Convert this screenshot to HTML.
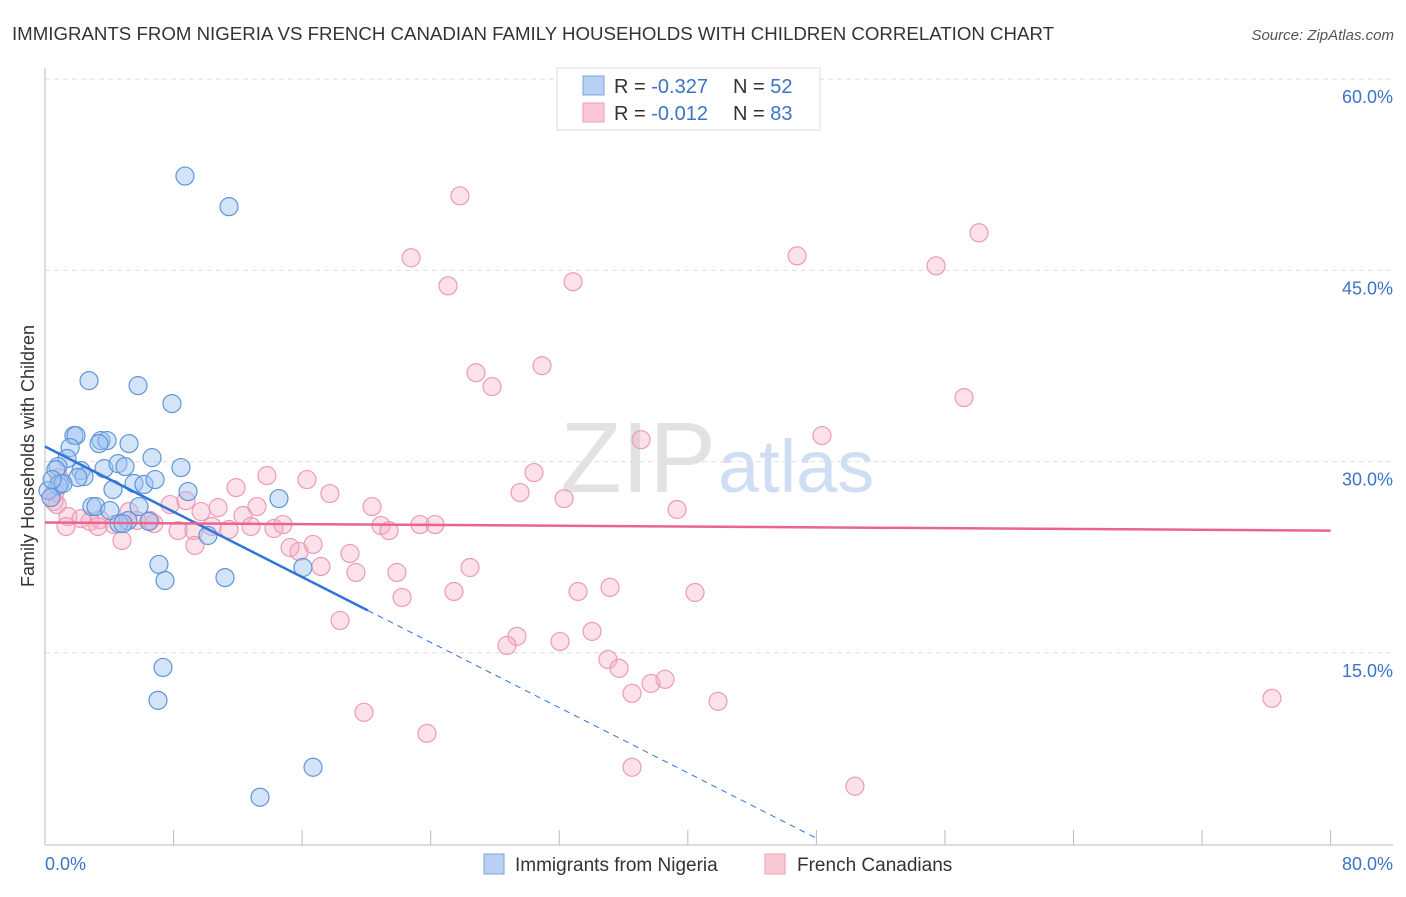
<!DOCTYPE html>
<html><head><meta charset="utf-8"><style>
body{margin:0;background:#fff;font-family:"Liberation Sans",sans-serif}
svg text{font-family:"Liberation Sans",sans-serif}
</style></head><body>
<svg id="chart" width="1406" height="892">
<text x="12" y="40" font-size="18" fill="#333" textLength="1042" lengthAdjust="spacingAndGlyphs">IMMIGRANTS FROM NIGERIA VS FRENCH CANADIAN FAMILY HOUSEHOLDS WITH CHILDREN CORRELATION CHART</text>
<text x="1394" y="40" font-size="15" fill="#555" font-style="italic" text-anchor="end">Source: ZipAtlas.com</text>
<text x="716" y="492" font-size="100" fill="#e2e2e2" text-anchor="end" font-family="Liberation Serif">ZIP</text>
<text x="718" y="492" font-size="74" fill="#cfdef2">atlas</text>
<g id="grid"></g><g id="axes"></g><g id="pts"></g><g id="trend"></g>
<text transform="translate(34,456) rotate(-90)" font-size="18" fill="#333" text-anchor="middle">Family Households with Children</text>
<text x="45" y="870" font-size="18" fill="#3b73c8">0.0%</text>
<text x="1393" y="870" font-size="18" fill="#3b73c8" text-anchor="end">80.0%</text>
<g>
<rect x="557" y="68" width="263" height="62" fill="#fff" stroke="#ddd"/>
<rect x="583" y="76" width="21" height="19" fill="#b7d0f3" stroke="#7aa6e0"/>
<rect x="583" y="103" width="21" height="19" fill="#fbc8d6" stroke="#ef9db6"/>
<text x="614" y="93" font-size="20" fill="#333">R = <tspan fill="#3b73c8">-0.327</tspan><tspan x="733">N = </tspan><tspan fill="#3b73c8">52</tspan></text>
<text x="614" y="120" font-size="20" fill="#333">R = <tspan fill="#3b73c8">-0.012</tspan><tspan x="733">N = </tspan><tspan fill="#3b73c8">83</tspan></text>
</g>
<g><rect x="484" y="854" width="20" height="20" fill="#b7d0f3" stroke="#7aa6e0"/><text x="515" y="871" font-size="19" fill="#333">Immigrants from Nigeria</text></g>
<g><rect x="765" y="854" width="20" height="20" fill="#fbc8d6" stroke="#ef9db6"/><text x="797" y="871" font-size="19" fill="#333">French Canadians</text></g>
</svg>
<script>
const yTicks=[15,30,45,60];
const yTickLabels=["15.0%","30.0%","45.0%","60.0%"];
const xTicks=[0,8,16,24,32,40,48,56,64,72,80];
const blueX=[8.71,11.45,2.74,5.79,7.9,1.8,1.93,3.48,3.86,3.36,5.23,1.56,1.37,6.66,0.81,0.68,2.24,3.67,4.54,4.98,8.46,2.43,2.05,0.93,0.81,5.54,6.16,6.85,4.23,0.19,0.37,8.9,14.56,2.92,3.17,4.04,5.85,5.16,4.6,4.85,6.47,10.14,7.09,16.05,7.47,11.2,7.34,7.03,16.68,13.38,1.12,0.44];
const blueY=[52.4,50.0,36.35,35.96,34.55,32.04,32.04,31.65,31.65,31.41,31.41,31.1,30.24,30.31,29.61,29.37,29.29,29.45,29.84,29.61,29.53,28.82,28.75,28.28,28.12,28.28,28.2,28.59,27.81,27.73,27.18,27.65,27.1,26.47,26.47,26.16,26.47,25.37,25.14,25.14,25.3,24.2,21.93,21.69,20.67,20.9,13.85,11.27,6.02,3.67,28.28,28.59];
const pinkX=[25.82,22.78,58.12,46.8,55.45,25.08,32.86,26.82,30.93,27.82,57.19,48.35,37.09,30.43,13.81,16.3,11.89,17.73,29.56,32.3,0.87,0.62,0.75,7.78,8.77,9.71,10.77,12.32,13.19,20.35,39.33,1.43,2.24,2.8,3.42,4.29,5.23,5.72,6.53,6.78,8.28,9.27,10.39,11.45,12.82,14.25,14.81,20.91,21.41,23.34,24.27,1.31,3.3,4.79,9.33,15.25,15.81,16.68,17.17,18.98,19.35,21.9,26.45,22.22,25.45,33.17,35.16,40.45,18.36,29.37,28.75,32.05,34.04,35.03,35.72,36.53,37.71,38.58,41.88,76.35,19.85,23.77,36.53,50.4,0.56];
const pinkY=[50.85,45.99,47.95,46.14,45.36,43.79,44.11,36.97,37.52,35.88,35.02,32.04,31.72,29.14,28.9,28.59,27.96,27.49,27.57,27.1,28.75,27.57,26.63,26.63,26.94,26.08,26.39,25.77,26.47,26.47,26.24,25.69,25.53,25.3,25.45,25.06,26.08,25.38,25.38,25.14,24.59,24.59,24.91,24.67,24.91,24.75,25.06,24.98,24.59,25.06,25.06,24.91,24.91,23.81,23.42,23.26,22.95,23.5,21.77,22.79,21.3,21.3,21.69,19.34,19.81,19.81,20.13,19.73,17.54,16.29,15.58,15.89,16.68,14.48,13.78,11.82,12.6,12.92,11.19,11.43,10.33,8.68,6.02,4.53,26.87];
const blueTrend=[31.18,-0.64];
const pinkTrend=[25.22,-0.0079];
const NS="http://www.w3.org/2000/svg";
const xs=v=>45+v*16.07, ys=v=>844-v*12.747;
function mk(tag,attrs,parent){const e=document.createElementNS(NS,tag);for(const k in attrs)e.setAttribute(k,attrs[k]);document.getElementById(parent).appendChild(e);return e;}
yTicks.forEach((t,i)=>{
 const l=mk('line',{x1:45,x2:1393,y1:ys(t),y2:ys(t),stroke:'#ddd','stroke-dasharray':'5,4'},'grid');
 
 
 const tx=mk('text',{x:1393,y:ys(t)+24,'font-size':18,fill:'#3b73c8','text-anchor':'end'},'grid');
 tx.textContent=yTickLabels[i];
 
 
});
const ya=mk('line',{x1:45,x2:45,y1:68,y2:845,stroke:'#bbb'},'axes');


const xa=mk('line',{x1:45,x2:1393,y1:845,y2:845,stroke:'#bbb'},'axes');


xTicks.forEach(t=>{
 const l=mk('line',{x1:xs(t),x2:xs(t),y1:830,y2:845,stroke:'#bbb'},'axes');
 
 
});
pinkX.forEach((x,i)=>{
 const c=mk('circle',{cx:xs(x),cy:ys(pinkY[i]),r:9,fill:'rgba(245,170,195,0.35)',stroke:'#ec9bb6','stroke-width':1.2},'pts');
 
 
});
blueX.forEach((x,i)=>{
 const c=mk('circle',{cx:xs(x),cy:ys(blueY[i]),r:9,fill:'rgba(160,195,240,0.45)',stroke:'#5f95db','stroke-width':1.2},'pts');
 
 
});
const bx1=20.1,bx2=48;
const b1=mk('line',{x1:xs(0),y1:ys(blueTrend[0]),x2:xs(bx1),y2:ys(blueTrend[0]+blueTrend[1]*bx1),stroke:'#2f74d8','stroke-width':2.5},'trend');


const b2=mk('line',{x1:xs(bx1),y1:ys(blueTrend[0]+blueTrend[1]*bx1),x2:xs(bx2),y2:ys(blueTrend[0]+blueTrend[1]*bx2),stroke:'#2f74d8','stroke-width':1,'stroke-dasharray':'6,5'},'trend');


const p1=mk('line',{x1:xs(0),y1:ys(pinkTrend[0]),x2:xs(80),y2:ys(pinkTrend[0]+pinkTrend[1]*80),stroke:'#e8658f','stroke-width':2.5},'trend');


</script>
</body></html>
